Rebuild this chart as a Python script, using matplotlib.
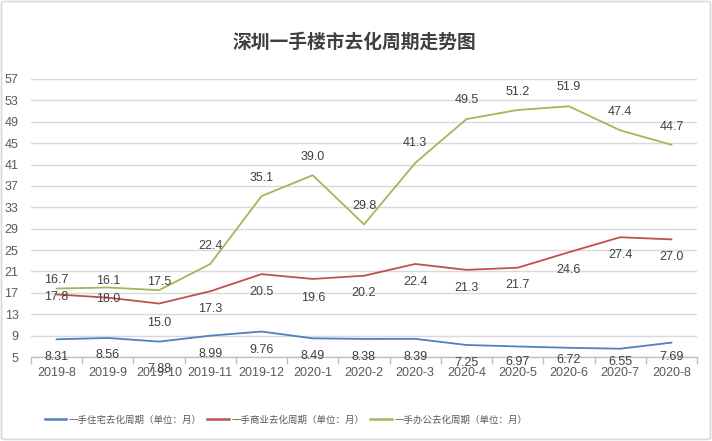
import matplotlib
matplotlib.use("Agg")
import matplotlib.pyplot as plt
from matplotlib.patches import FancyBboxPatch
import numpy as np

categories = ["2019-8", "2019-9", "2019-10", "2019-11", "2019-12", "2020-1", "2020-2",
              "2020-3", "2020-4", "2020-5", "2020-6", "2020-7", "2020-8"]
residential = [8.31, 8.56, 7.88, 8.99, 9.76, 8.49, 8.38, 8.39, 7.25, 6.97, 6.72, 6.55, 7.69]
commercial = [16.7, 16.1, 15.0, 17.3, 20.5, 19.6, 20.2, 22.4, 21.3, 21.7, 24.6, 27.4, 27.0]
office = [17.8, 18.0, 17.5, 22.4, 35.1, 39.0, 29.8, 41.3, 49.5, 51.2, 51.9, 47.4, 44.7]
# data label texts as shown in the chart
residential_labels = ["8.31", "8.56", "7.88", "8.99", "9.76", "8.49", "8.38", "8.39", "7.25", "6.97", "6.72", "6.55", "7.69"]
commercial_labels = ["17.8", "18.0", "15.0", "17.3", "20.5", "19.6", "20.2", "22.4", "21.3", "21.7", "24.6", "27.4", "27.0"]
office_labels = ["16.7", "16.1", "17.5", "22.4", "35.1", "39.0", "29.8", "41.3", "49.5", "51.2", "51.9", "47.4", "44.7"]
series_names = ["一手住宅去化周期（单位：月）", "一手商业去化周期（单位：月）", "一手办公去化周期（单位：月）"]
title = "深圳一手楼市去化周期走势图"
yticks = list(range(5, 58, 4))

# label vertical offsets in pixels (negative = below)
res_off = [-18, -17, -27, -18, -18, -18, -18, -18, -18, -16, -12, -13, -14]
com_off = [-3, -1, -19, -18, -18, -19, -17, -18, -18, -17, -18, -18, -18]
off_off = [9, 6, 8, 18, 18, 18, 18, 20, 19, 18, 19, 18, 18]

W, H = 712, 441
fig = plt.figure(figsize=(W / 100, H / 100), dpi=100)
fig.patch.set_facecolor("white")

border = FancyBboxPatch((1.5 / W, 1.5 / H), (W - 3) / W, (H - 3) / H,
                        boxstyle="round,pad=0,rounding_size=0.005",
                        transform=fig.transFigure, fill=False,
                        edgecolor="#D9D9D9", linewidth=1.2)
fig.patches.append(border)

ax = fig.add_axes([31 / W, (H - 357) / H, (697 - 31) / W, (357 - 79) / H])
x = np.arange(len(categories))
colors = ["#4F81BD", "#C0504D", "#9BBB59"]

ax.plot(x, residential, color=colors[0], lw=1.3, label=series_names[0], zorder=3)
ax.plot(x, commercial, color=colors[1], lw=1.3, label=series_names[1], zorder=3)
ax.plot(x, office, color=colors[2], lw=1.3, label=series_names[2], zorder=3)

lab_font = dict(family=["Liberation Sans", "DejaVu Sans"], size=9, color="#404040")
for vals, labs, offs in [(residential, residential_labels, res_off),
                         (commercial, commercial_labels, com_off),
                         (office, office_labels, off_off)]:
    for xi, v, t, o in zip(x, vals, labs, offs):
        ax.annotate(t, (xi, v), xytext=(0, o), textcoords="offset pixels",
                    ha="center", va="center", **lab_font, zorder=4)

ax.set_xlim(-0.5, len(categories) - 0.5)
ax.set_ylim(5, 57)
ax.set_yticks(yticks)
ax.set_yticklabels([str(t) for t in yticks], family=["Liberation Sans"], size=9, color="#595959")
ax.set_xticks(x)
ax.set_xticklabels(categories, family=["Liberation Sans"], size=9, color="#595959")
ax.set_xticks(np.arange(-0.5, len(categories), 1), minor=True)
ax.tick_params(axis="x", which="major", length=0, pad=7)
ax.tick_params(axis="x", which="minor", length=5, color="#BFBFBF", width=1)
ax.tick_params(axis="y", length=0, pad=9)
ax.grid(axis="y", color="#D9D9D9", lw=1)
ax.set_axisbelow(True)
for s in ["left", "right", "top"]:
    ax.spines[s].set_visible(False)
ax.spines["bottom"].set_color("#BFBFBF")
ax.spines["bottom"].set_linewidth(1)

fig.text(354 / W, (H - 42) / H, title, ha="center", va="center",
         family=["Noto Sans CJK SC", "DejaVu Sans"], weight="bold", size=13.5, color="#404040")

leg = fig.legend(loc="center", bbox_to_anchor=(286 / W, 21 / H), ncol=3, frameon=False,
                 prop=dict(family=["Noto Sans CJK SC", "DejaVu Sans"], size=6.8),
                 handlelength=2.3, handletextpad=0.25, columnspacing=0.6,
                 labelcolor="#595959")
for line in leg.get_lines():
    line.set_linewidth(1.8)

fig.savefig("out.png", dpi=100, facecolor="white")
